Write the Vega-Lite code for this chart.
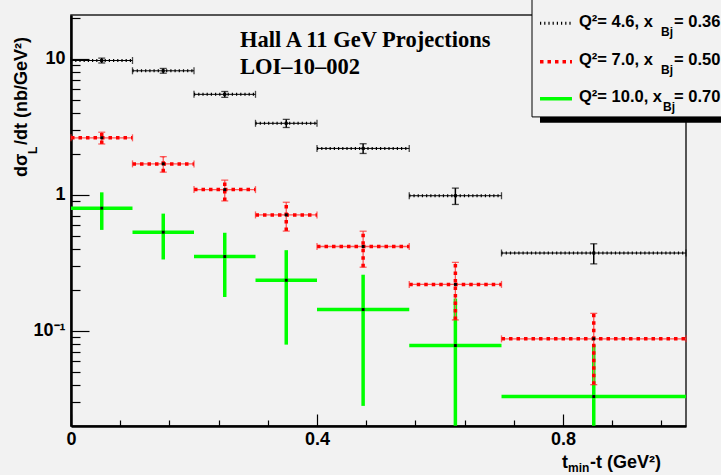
{
  "$schema": "https://vega.github.io/schema/vega-lite/v6.json",
  "width": 615,
  "height": 411,
  "autosize": {"type": "none"},
  "padding": {"left": 71, "top": 15, "right": 35, "bottom": 49},
  "background": "#f2f2f2",
  "config": {
    "view": {"stroke": "#222222", "strokeWidth": 1.5, "fill": null},
    "font": "Liberation Sans",
    "axis": {"labelFont": "Liberation Sans", "labelFontWeight": "bold", "labelFontSize": 18, "labelColor": "#000000", "labelOverlap": false, "labelFlush": false, "grid": false}
  },
  "datasets": {
    "pts": [
      {"s": "c", "x": 0.05, "xlo": 0.0, "xhi": 0.1, "y": 0.796, "ylo": 0.551, "yhi": 1.041},
      {"s": "c", "x": 0.15, "xlo": 0.1, "xhi": 0.2, "y": 0.53, "ylo": 0.334, "yhi": 0.726},
      {"s": "c", "x": 0.25, "xlo": 0.2, "xhi": 0.3, "y": 0.351, "ylo": 0.177, "yhi": 0.525},
      {"s": "c", "x": 0.35, "xlo": 0.3, "xhi": 0.4, "y": 0.235, "ylo": 0.079, "yhi": 0.391},
      {"s": "c", "x": 0.475, "xlo": 0.4, "xhi": 0.55, "y": 0.143, "ylo": 0.028, "yhi": 0.258},
      {"s": "c", "x": 0.625, "xlo": 0.55, "xhi": 0.7, "y": 0.0778, "ylo": 0.02, "yhi": 0.1724},
      {"s": "c", "x": 0.85, "xlo": 0.7, "xhi": 1.0, "y": 0.0328, "ylo": 0.02, "yhi": 0.0788},
      {"s": "b", "x": 0.05, "xlo": 0.0, "xhi": 0.1, "y": 2.62, "ylo": 2.36, "yhi": 2.88},
      {"s": "b", "x": 0.15, "xlo": 0.1, "xhi": 0.2, "y": 1.685, "ylo": 1.465, "yhi": 1.905},
      {"s": "b", "x": 0.25, "xlo": 0.2, "xhi": 0.3, "y": 1.09, "ylo": 0.9, "yhi": 1.28},
      {"s": "b", "x": 0.35, "xlo": 0.3, "xhi": 0.4, "y": 0.71, "ylo": 0.54, "yhi": 0.88},
      {"s": "b", "x": 0.475, "xlo": 0.4, "xhi": 0.55, "y": 0.416, "ylo": 0.293, "yhi": 0.539},
      {"s": "b", "x": 0.625, "xlo": 0.55, "xhi": 0.7, "y": 0.219, "ylo": 0.12, "yhi": 0.318},
      {"s": "b", "x": 0.85, "xlo": 0.7, "xhi": 1.0, "y": 0.0871, "ylo": 0.0401, "yhi": 0.1341},
      {"s": "a", "x": 0.05, "xlo": 0.0, "xhi": 0.1, "y": 9.7, "ylo": 9.3, "yhi": 10.1},
      {"s": "a", "x": 0.15, "xlo": 0.1, "xhi": 0.2, "y": 8.15, "ylo": 7.82, "yhi": 8.48},
      {"s": "a", "x": 0.25, "xlo": 0.2, "xhi": 0.3, "y": 5.47, "ylo": 5.2, "yhi": 5.74},
      {"s": "a", "x": 0.35, "xlo": 0.3, "xhi": 0.4, "y": 3.35, "ylo": 3.12, "yhi": 3.58},
      {"s": "a", "x": 0.475, "xlo": 0.4, "xhi": 0.55, "y": 2.19, "ylo": 2.01, "yhi": 2.37},
      {"s": "a", "x": 0.625, "xlo": 0.55, "xhi": 0.7, "y": 0.983, "ylo": 0.848, "yhi": 1.118},
      {"s": "a", "x": 0.85, "xlo": 0.7, "xhi": 1.0, "y": 0.3726, "ylo": 0.31, "yhi": 0.4356}
    ]
  },
  "data": {"name": "pts"},
  "layer": [
    {
      "mark": {"type": "point", "opacity": 0},
      "encoding": {
        "x": {"field": "x", "type": "quantitative", "scale": {"domain": [0, 1], "nice": false, "zero": false},
          "axis": {"orient": "bottom", "title": null, "values": [0,0.02,0.04,0.06,0.08,0.1,0.12,0.14,0.16,0.18,0.2,0.22,0.24,0.26,0.28,0.3,0.32,0.34,0.36,0.38,0.4,0.42,0.44,0.46,0.48,0.5,0.52,0.54,0.56,0.58,0.6,0.62,0.64,0.66,0.68,0.7,0.72,0.74,0.76,0.78,0.8,0.82,0.84,0.86,0.88,0.9,0.92,0.94,0.96,0.98,1],
            "labelOverlap": false, "labelFlush": false, "grid": false,
            "ticks": true, "tickColor": "#000000", "tickWidth": 1.2,
            "tickSize": {"condition": {"test": "abs(datum.value * 10 - round(datum.value * 10)) < 0.000001", "value": -12}, "value": -6},
            "domain": true, "domainColor": "#000000", "domainWidth": 2.5, "labelPadding": 16.5,
            "labelExpr": "abs(datum.value * 10 - round(datum.value * 10)) < 0.000001 ? format(datum.value, '.1~f') : ''"}},
        "y": {"field": "y", "type": "quantitative", "scale": {"type": "log", "domain": [0.01992, 20.96], "nice": false},
          "axis": {"orient": "left", "title": null, "values": [0.03,0.04,0.05,0.06,0.07,0.08,0.09,0.1,0.2,0.3,0.4,0.5,0.6,0.7,0.8,0.9,1,2,3,4,5,6,7,8,9,10,20],
            "labelOverlap": false, "grid": false,
            "ticks": true, "tickColor": "#000000", "tickWidth": 1.2,
            "tickSize": {"condition": {"test": "datum.value == 0.1 || datum.value == 1 || datum.value == 10", "value": -18}, "value": -9},
            "domain": true, "domainColor": "#000000", "domainWidth": 2.5, "labelPadding": 24,
            "labelExpr": "datum.value == 0.1 ? '10⁻¹' : (datum.value == 10 ? '10' : (datum.value == 1 ? '1' : ''))"}}
      }
    },
    {
      "transform": [{"filter": "datum.s == 'c'"}],
      "mark": {"type": "rule", "color": "#00ff00", "strokeWidth": 3.5},
      "encoding": {
        "x": {"field": "xlo", "type": "quantitative", "axis": {"title": null}},
        "x2": {"field": "xhi"},
        "y": {"field": "y", "type": "quantitative", "axis": {"title": null}}
      }
    },
    {
      "transform": [{"filter": "datum.s == 'c'"}],
      "mark": {"type": "rule", "color": "#00ff00", "strokeWidth": 3.5},
      "encoding": {
        "x": {"field": "x", "type": "quantitative", "axis": {"title": null}},
        "y": {"field": "ylo", "type": "quantitative", "axis": {"title": null}},
        "y2": {"field": "yhi"}
      }
    },
    {
      "transform": [{"filter": "datum.s == 'b'"}],
      "mark": {"type": "rule", "color": "#ff5555", "strokeWidth": 1.3},
      "encoding": {
        "x": {"field": "xlo", "type": "quantitative", "axis": {"title": null}},
        "x2": {"field": "xhi"},
        "y": {"field": "y", "type": "quantitative", "axis": {"title": null}}
      }
    },
    {
      "transform": [{"filter": "datum.s == 'b'"}],
      "mark": {"type": "rule", "color": "#ff0000", "strokeWidth": 3.5, "strokeDash": [3.5, 4]},
      "encoding": {
        "x": {"field": "xlo", "type": "quantitative", "axis": {"title": null}},
        "x2": {"field": "xhi"},
        "y": {"field": "y", "type": "quantitative", "axis": {"title": null}}
      }
    },
    {
      "transform": [{"filter": "datum.s == 'b'"}],
      "mark": {"type": "rule", "color": "#ff5555", "strokeWidth": 1.3},
      "encoding": {
        "x": {"field": "x", "type": "quantitative", "axis": {"title": null}},
        "y": {"field": "ylo", "type": "quantitative", "axis": {"title": null}},
        "y2": {"field": "yhi"}
      }
    },
    {
      "transform": [{"filter": "datum.s == 'b'"}],
      "mark": {"type": "rule", "color": "#ff0000", "strokeWidth": 3.5, "strokeDash": [3.5, 4]},
      "encoding": {
        "x": {"field": "x", "type": "quantitative", "axis": {"title": null}},
        "y": {"field": "ylo", "type": "quantitative", "axis": {"title": null}},
        "y2": {"field": "yhi"}
      }
    },
    {
      "transform": [{"filter": "datum.s == 'a'"}],
      "mark": {"type": "rule", "color": "#000000", "strokeWidth": 1},
      "encoding": {
        "x": {"field": "xlo", "type": "quantitative", "axis": {"title": null}},
        "x2": {"field": "xhi"},
        "y": {"field": "y", "type": "quantitative", "axis": {"title": null}}
      }
    },
    {
      "transform": [{"filter": "datum.s == 'a'"}],
      "mark": {"type": "rule", "color": "#000000", "strokeWidth": 3, "strokeDash": [1.2, 3]},
      "encoding": {
        "x": {"field": "xlo", "type": "quantitative", "axis": {"title": null}},
        "x2": {"field": "xhi"},
        "y": {"field": "y", "type": "quantitative", "axis": {"title": null}}
      }
    },
    {
      "transform": [{"filter": "datum.s == 'a'"}],
      "mark": {"type": "rule", "color": "#000000", "strokeWidth": 1.5},
      "encoding": {
        "x": {"field": "x", "type": "quantitative", "axis": {"title": null}},
        "y": {"field": "ylo", "type": "quantitative", "axis": {"title": null}},
        "y2": {"field": "yhi"}
      }
    },
    {
      "transform": [{"filter": "datum.s != 'c'"}, {"fold": ["xlo", "xhi"], "as": ["k", "xv"]}],
      "mark": {"type": "tick", "orient": "vertical", "size": 7, "thickness": 1.3},
      "encoding": {
        "x": {"field": "xv", "type": "quantitative", "axis": {"title": null}},
        "y": {"field": "y", "type": "quantitative", "axis": {"title": null}},
        "color": {"field": "s", "type": "nominal", "scale": {"domain": ["a", "b", "c"], "range": ["#000000", "#ff2222", "#00ff00"]}, "legend": null}
      }
    },
    {
      "transform": [{"filter": "datum.s != 'c'"}, {"fold": ["ylo", "yhi"], "as": ["k", "yv"]}],
      "mark": {"type": "tick", "orient": "horizontal", "size": 7, "thickness": 1.3},
      "encoding": {
        "x": {"field": "x", "type": "quantitative", "axis": {"title": null}},
        "y": {"field": "yv", "type": "quantitative", "axis": {"title": null}},
        "color": {"field": "s", "type": "nominal", "legend": null}
      }
    },
    {
      "mark": {"type": "square", "size": 9, "color": "#000000", "filled": true, "opacity": 1},
      "encoding": {
        "x": {"field": "x", "type": "quantitative", "axis": {"title": null}},
        "y": {"field": "y", "type": "quantitative", "axis": {"title": null}}
      }
    },
    {
      "data": {"values": [{}]},
      "mark": {"type": "text", "text": "Hall A 11 GeV Projections", "font": "Liberation Serif", "fontWeight": "bold", "fontSize": 22.5, "align": "left", "baseline": "alphabetic", "color": "#000000"},
      "encoding": {
        "x": {"datum": 0.2748, "type": "quantitative", "axis": {"title": null}},
        "y": {"datum": 12.19, "type": "quantitative", "axis": {"title": null}}
      }
    },
    {
      "data": {"values": [{}]},
      "mark": {"type": "text", "text": "LOI–10–002", "font": "Liberation Serif", "fontWeight": "bold", "fontSize": 22.5, "align": "left", "baseline": "alphabetic", "color": "#000000"},
      "encoding": {
        "x": {"datum": 0.2748, "type": "quantitative", "axis": {"title": null}},
        "y": {"datum": 7.783, "type": "quantitative", "axis": {"title": null}}
      }
    },
    {
      "data": {"values": [{}]},
      "mark": {"type": "text", "text": "dσ", "fontWeight": "bold", "fontSize": 18, "align": "left", "baseline": "alphabetic", "angle": 270, "color": "#000000"},
      "encoding": {
        "x": {"datum": -0.0715, "type": "quantitative", "axis": {"title": null}},
        "y": {"datum": 1.349, "type": "quantitative", "axis": {"title": null}}
      }
    },
    {
      "data": {"values": [{}]},
      "mark": {"type": "text", "text": "L", "fontWeight": "bold", "fontSize": 12, "align": "left", "baseline": "alphabetic", "angle": 270, "color": "#000000"},
      "encoding": {
        "x": {"datum": -0.0553, "type": "quantitative", "axis": {"title": null}},
        "y": {"datum": 1.992, "type": "quantitative", "axis": {"title": null}}
      }
    },
    {
      "data": {"values": [{}]},
      "mark": {"type": "text", "text": "/dt (nb/GeV²)", "fontWeight": "bold", "fontSize": 18, "align": "left", "baseline": "alphabetic", "angle": 270, "color": "#000000"},
      "encoding": {
        "x": {"datum": -0.0715, "type": "quantitative", "axis": {"title": null}},
        "y": {"datum": 2.319, "type": "quantitative", "axis": {"title": null}}
      }
    },
    {
      "data": {"values": [{}]},
      "mark": {"type": "text", "text": "t", "fontWeight": "bold", "fontSize": 18, "align": "left", "baseline": "alphabetic", "color": "#000000"},
      "encoding": {
        "x": {"datum": 0.7984, "type": "quantitative", "axis": {"title": null}},
        "y": {"datum": 0.009781, "type": "quantitative", "axis": {"title": null}}
      }
    },
    {
      "data": {"values": [{}]},
      "mark": {"type": "text", "text": "min", "fontWeight": "bold", "fontSize": 12, "align": "left", "baseline": "alphabetic", "color": "#000000"},
      "encoding": {
        "x": {"datum": 0.8081, "type": "quantitative", "axis": {"title": null}},
        "y": {"datum": 0.009141, "type": "quantitative", "axis": {"title": null}}
      }
    },
    {
      "data": {"values": [{}]},
      "mark": {"type": "text", "text": "-t (GeV²)", "fontWeight": "bold", "fontSize": 18, "align": "left", "baseline": "alphabetic", "color": "#000000"},
      "encoding": {
        "x": {"datum": 0.8439, "type": "quantitative", "axis": {"title": null}},
        "y": {"datum": 0.009781, "type": "quantitative", "axis": {"title": null}}
      }
    },
    {
      "data": {"values": [{}]},
      "mark": {"type": "rect", "color": "#000000"},
      "encoding": {
        "x": {"datum": 0.7626, "type": "quantitative", "axis": {"title": null}},
        "x2": {"datum": 1.104},
        "y": {"datum": 3.733, "type": "quantitative", "axis": {"title": null}},
        "y2": {"datum": 3.383}
      }
    },
    {
      "data": {"values": [{}]},
      "mark": {"type": "rect", "fill": "#f2f2f2", "stroke": "#000000", "strokeWidth": 1},
      "encoding": {
        "x": {"datum": 0.7496, "type": "quantitative", "axis": {"title": null}},
        "x2": {"datum": 1.104},
        "y": {"datum": 27.4, "type": "quantitative", "axis": {"title": null}},
        "y2": {"datum": 3.733}
      }
    },
    {
      "data": {"values": [{}]},
      "mark": {"type": "rule", "color": "#000000", "strokeWidth": 3, "strokeDash": [1.2, 3]},
      "encoding": {
        "x": {"datum": 0.7626, "type": "quantitative", "axis": {"title": null}},
        "x2": {"datum": 0.8146},
        "y": {"datum": 18.21, "type": "quantitative", "axis": {"title": null}}
      }
    },
    {
      "data": {"values": [{}]},
      "mark": {"type": "rule", "color": "#ff0000", "strokeWidth": 3.5, "strokeDash": [3.5, 4]},
      "encoding": {
        "x": {"datum": 0.7626, "type": "quantitative", "axis": {"title": null}},
        "x2": {"datum": 0.8146},
        "y": {"datum": 9.506, "type": "quantitative", "axis": {"title": null}}
      }
    },
    {
      "data": {"values": [{}]},
      "mark": {"type": "rule", "color": "#00ff00", "strokeWidth": 3.5},
      "encoding": {
        "x": {"datum": 0.7626, "type": "quantitative", "axis": {"title": null}},
        "x2": {"datum": 0.8146},
        "y": {"datum": 5.08, "type": "quantitative", "axis": {"title": null}}
      }
    },
    {
      "data": {"values": [{}]},
      "mark": {"type": "text", "text": "Q²=  4.6, x", "fontWeight": "bold", "fontSize": 16.5, "align": "left", "baseline": "alphabetic", "color": "#000000"},
      "encoding": {"x": {"datum": 0.826, "type": "quantitative", "axis": {"title": null}}, "y": {"datum": 17.1, "type": "quantitative", "axis": {"title": null}}}
    },
    {
      "data": {"values": [{}]},
      "mark": {"type": "text", "text": "Bj", "fontWeight": "bold", "fontSize": 12, "align": "left", "baseline": "alphabetic", "color": "#000000"},
      "encoding": {"x": {"datum": 0.9593, "type": "quantitative", "axis": {"title": null}}, "y": {"datum": 14.69, "type": "quantitative", "axis": {"title": null}}}
    },
    {
      "data": {"values": [{}]},
      "mark": {"type": "text", "text": "= 0.36", "fontWeight": "bold", "fontSize": 16.5, "align": "left", "baseline": "alphabetic", "color": "#000000"},
      "encoding": {"x": {"datum": 0.9805, "type": "quantitative", "axis": {"title": null}}, "y": {"datum": 17.1, "type": "quantitative", "axis": {"title": null}}}
    },
    {
      "data": {"values": [{}]},
      "mark": {"type": "text", "text": "Q²=  7.0, x", "fontWeight": "bold", "fontSize": 16.5, "align": "left", "baseline": "alphabetic", "color": "#000000"},
      "encoding": {"x": {"datum": 0.826, "type": "quantitative", "axis": {"title": null}}, "y": {"datum": 8.989, "type": "quantitative", "axis": {"title": null}}}
    },
    {
      "data": {"values": [{}]},
      "mark": {"type": "text", "text": "Bj", "fontWeight": "bold", "fontSize": 12, "align": "left", "baseline": "alphabetic", "color": "#000000"},
      "encoding": {"x": {"datum": 0.9593, "type": "quantitative", "axis": {"title": null}}, "y": {"datum": 7.717, "type": "quantitative", "axis": {"title": null}}}
    },
    {
      "data": {"values": [{}]},
      "mark": {"type": "text", "text": "= 0.50", "fontWeight": "bold", "fontSize": 16.5, "align": "left", "baseline": "alphabetic", "color": "#000000"},
      "encoding": {"x": {"datum": 0.9805, "type": "quantitative", "axis": {"title": null}}, "y": {"datum": 8.989, "type": "quantitative", "axis": {"title": null}}}
    },
    {
      "data": {"values": [{}]},
      "mark": {"type": "text", "text": "Q²= 10.0, x", "fontWeight": "bold", "fontSize": 16.5, "align": "left", "baseline": "alphabetic", "color": "#000000"},
      "encoding": {"x": {"datum": 0.826, "type": "quantitative", "axis": {"title": null}}, "y": {"datum": 4.779, "type": "quantitative", "axis": {"title": null}}}
    },
    {
      "data": {"values": [{}]},
      "mark": {"type": "text", "text": "Bj", "fontWeight": "bold", "fontSize": 12, "align": "left", "baseline": "alphabetic", "color": "#000000"},
      "encoding": {"x": {"datum": 0.9626, "type": "quantitative", "axis": {"title": null}}, "y": {"datum": 4.104, "type": "quantitative", "axis": {"title": null}}}
    },
    {
      "data": {"values": [{}]},
      "mark": {"type": "text", "text": "= 0.70", "fontWeight": "bold", "fontSize": 16.5, "align": "left", "baseline": "alphabetic", "color": "#000000"},
      "encoding": {"x": {"datum": 0.9805, "type": "quantitative", "axis": {"title": null}}, "y": {"datum": 4.779, "type": "quantitative", "axis": {"title": null}}}
    }
  ]
}
